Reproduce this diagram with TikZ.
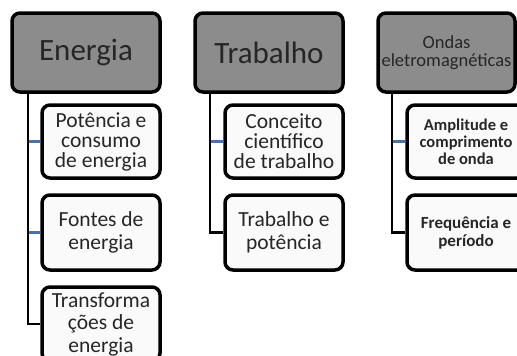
\documentclass[tikz,border=0pt]{standalone}
\usepackage{fontspec}
\setmainfont{Carlito}
\usetikzlibrary{backgrounds}
\begin{document}
\begin{tikzpicture}[x=1pt,y=-1pt,
  parentbox/.style={draw=black,line width=3.5pt,rounded corners=8pt,fill=parentgray,
    minimum width=#1,minimum height=79pt,inner sep=0pt,align=center,text=black!85},
  childbox/.style={draw=black,line width=3.5pt,rounded corners=8pt,fill=black!2,
    minimum width=118pt,inner sep=0pt,align=center,text=black!85},
  trunk/.style={line width=2.6pt,black},
  stub/.style={line width=2.6pt,stubblue}]
\definecolor{parentgray}{HTML}{8C8C8C}
\definecolor{stubblue}{HTML}{4A72A8}
\useasboundingbox (0,0) rectangle (517,356);
\clip (0,0) rectangle (517,356);
% trunk coordinates
\coordinate (Ex) at (28,0);
\coordinate (Tx) at (210,0);
\coordinate (Ox) at (392,0);
% parents
\node[parentbox=148pt,font=\fontsize{31}{31}\selectfont] (E) at (86,52.5) {Energia};
\node[parentbox=148pt,font=\fontsize{31}{31}\selectfont] (T) at (269,52.5) {Trabalho};
\node[parentbox=137pt,font=\fontsize{18.5}{18}\selectfont] (O) at (446.5,52.5) {Ondas\\eletromagnéticas};
% children
\node[childbox,minimum height=73pt,font=\fontsize{21.5}{20}\selectfont] (E1) at (101,141.5) {Potência e\\consumo\\de energia};
\node[childbox,minimum height=75pt,font=\fontsize{21.5}{23}\selectfont] (E2) at (101,232.5) {Fontes de\\energia};
\node[childbox,minimum height=74pt,font=\fontsize{21.5}{22.5}\selectfont] (E3) at (101,324) {Transforma\\ções de\\energia};
\node[childbox,minimum height=73pt,font=\fontsize{21.5}{20}\selectfont] (T1) at (284,141.5) {Conceito\\científico\\de trabalho};
\node[childbox,minimum height=75pt,font=\fontsize{21.5}{23}\selectfont] (T2) at (284,232.5) {Trabalho e\\potência};
\node[childbox,minimum height=73pt,font=\bfseries\fontsize{16.5}{17}\selectfont] (O1) at (466,141.5) {Amplitude e\\comprimento\\de onda};
\node[childbox,minimum height=75pt,font=\bfseries\fontsize{17}{18}\selectfont] (O2) at (466,232.5) {Frequência e\\período};
% connectors behind boxes
\begin{scope}[on background layer]
\draw[trunk] (E.south -| Ex) |- (E3.west);
\draw[trunk] (T.south -| Tx) |- (T2.west);
\draw[trunk] (O.south -| Ox) |- (O2.west);
\draw[stub] (E1.west -| Ex) ++(1.3,0) -- (E1.west);
\draw[stub] (E2.west -| Ex) ++(1.3,0) -- (E2.west);
\draw[stub] (T1.west -| Tx) ++(1.3,0) -- (T1.west);
\draw[stub] (O1.west -| Ox) ++(1.3,0) -- (O1.west);
\end{scope}
\end{tikzpicture}
\end{document}
